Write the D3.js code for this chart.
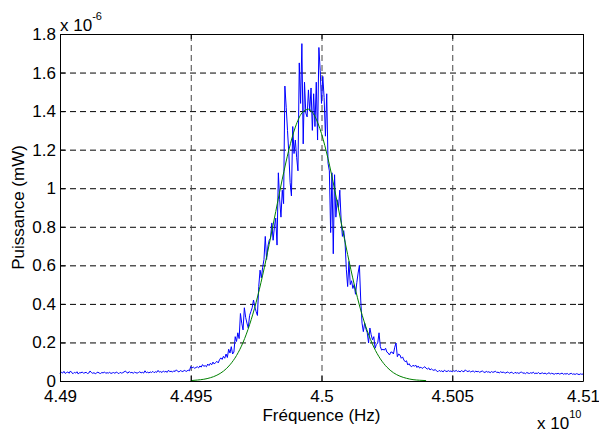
<!DOCTYPE html>
<html>
<head>
<meta charset="utf-8">
<script src="https://cdn.jsdelivr.net/npm/d3@7"></script>
<style>
  body { margin: 0; background: #fff; }
  svg { font-family: "Liberation Sans", Arial, Helvetica, sans-serif; }
</style>
</head>
<body>
<div id="chart"></div>
<script>
// measured spectrum, sampled every 0.00005 (x 1e10 Hz) from 4.49, values in 1e-6 mW
const freqStart = 4.49;
const freqStep = 0.00005;
const powerValues = [
  0.038,0.046,0.041,0.050,0.039,0.044,0.047,0.040,0.052,0.043,0.038,0.045,0.041,0.048,0.036,0.044,0.042,0.047,0.040,0.043,
  0.045,0.039,0.041,0.052,0.044,0.040,0.043,0.038,0.042,0.046,0.041,0.039,0.044,0.042,0.047,0.040,0.043,0.041,0.045,0.039,
  0.042,0.044,0.040,0.046,0.043,0.038,0.045,0.041,0.043,0.047,0.052,0.044,0.041,0.049,0.042,0.045,0.040,0.046,0.043,0.041,
  0.044,0.048,0.042,0.045,0.041,0.053,0.043,0.046,0.042,0.047,0.044,0.050,0.043,0.048,0.045,0.055,0.046,0.049,0.044,0.052,
  0.047,0.050,0.045,0.056,0.048,0.051,0.046,0.053,0.049,0.058,0.050,0.047,0.054,0.051,0.049,0.055,0.052,0.050,0.057,0.053,
  0.075,0.068,0.072,0.066,0.070,0.074,0.068,0.078,0.072,0.085,0.076,0.080,0.074,0.088,0.080,0.092,0.084,0.098,0.088,0.096,
  0.102,0.094,0.110,0.120,0.112,0.128,0.118,0.140,0.122,0.165,0.145,0.178,0.140,0.150,0.230,0.205,0.250,0.220,0.350,0.300,
  0.265,0.380,0.330,0.300,0.275,0.340,0.360,0.380,0.420,0.385,0.360,0.340,0.490,0.575,0.535,0.590,0.630,0.750,0.630,0.700,
  0.730,0.740,0.820,0.730,0.800,0.845,0.705,1.080,0.940,0.850,0.990,0.920,1.530,1.420,1.300,1.180,1.030,0.960,1.320,1.180,
  1.250,1.160,1.090,1.650,1.440,1.750,1.230,1.550,1.390,1.370,1.510,1.400,1.520,1.300,1.490,1.320,1.550,1.250,1.730,1.610,
  1.440,1.580,1.470,1.270,1.490,1.130,1.090,0.770,1.080,0.660,1.070,0.850,0.940,0.900,0.990,0.835,0.750,0.780,0.720,0.580,
  0.490,0.620,0.500,0.520,0.480,0.500,0.450,0.510,0.560,0.600,0.420,0.300,0.256,0.300,0.270,0.250,0.197,0.275,0.240,0.213,
  0.230,0.170,0.190,0.197,0.250,0.178,0.160,0.165,0.160,0.170,0.150,0.145,0.135,0.150,0.150,0.140,0.175,0.197,0.126,0.140,
  0.135,0.118,0.125,0.109,0.100,0.105,0.083,0.090,0.078,0.074,0.082,0.076,0.083,0.070,0.078,0.067,0.072,0.065,0.070,0.074,
  0.066,0.062,0.068,0.057,0.063,0.058,0.055,0.060,0.052,0.048,0.055,0.050,0.053,0.047,0.056,0.051,0.049,0.054,0.050,0.052,
  0.048,0.053,0.050,0.055,0.049,0.052,0.047,0.054,0.050,0.048,0.058,0.051,0.049,0.053,0.047,0.050,0.052,0.046,0.051,0.048,
  0.050,0.045,0.049,0.052,0.047,0.044,0.050,0.046,0.048,0.043,0.049,0.045,0.047,0.051,0.044,0.046,0.042,0.048,0.044,0.046,
  0.043,0.041,0.047,0.044,0.040,0.046,0.043,0.038,0.045,0.041,0.043,0.039,0.044,0.047,0.040,0.042,0.038,0.044,0.041,0.039,
  0.043,0.040,0.046,0.038,0.041,0.039,0.044,0.037,0.040,0.042,0.038,0.041,0.036,0.039,0.043,0.037,0.040,0.038,0.035,0.039,
  0.037,0.040,0.036,0.038,0.041,0.035,0.038,0.036,0.039,0.034,0.037,0.040,0.035,0.037,0.034,0.038,0.036,0.033,0.037,0.035,0.036
];

// gaussian fit
const fitFreqs = [
  4.4950,4.49525,4.4955,4.49575,4.4960,4.49625,4.4965,4.49675,4.4970,4.49725,4.4975,4.49775,4.4980,4.49825,4.4985,4.49875,
  4.4990,4.49925,4.4995,4.49975,4.5000,4.50025,4.5005,4.50075,4.5010,4.50125,4.5015,4.50175,4.5020,4.50225,4.5025,4.50275,
  4.5030,4.50325,4.5035,4.50375,4.5040
];
const fitValues = [
  0.002,0.005,0.009,0.017,0.030,0.051,0.084,0.132,0.200,0.292,0.408,0.549,0.709,0.879,1.047,1.198,
  1.317,1.390,1.410,1.372,1.283,1.153,0.995,0.824,0.656,0.502,0.368,0.260,0.176,0.115,0.072,0.043,
  0.025,0.014,0.007,0.004,0.002
];

const xTicks = [4.49, 4.495, 4.5, 4.505, 4.51];
const xTickLabels = ['4.49', '4.495', '4.5', '4.505', '4.51'];
const yTicks = [0, 0.2, 0.4, 0.6, 0.8, 1, 1.2, 1.4, 1.6, 1.8];
const yTickLabels = ['0', '0.2', '0.4', '0.6', '0.8', '1', '1.2', '1.4', '1.6', '1.8'];

const width = 599;
const height = 432;
const margin = { top: 34, right: 16, bottom: 51, left: 60 };
const innerW = width - margin.left - margin.right;
const innerH = height - margin.top - margin.bottom;

const svg = d3.select('#chart')
  .append('svg')
  .attr('width', width)
  .attr('height', height);

const chart = svg.append('g')
  .attr('transform', 'translate(' + margin.left + ',' + margin.top + ')');

const xCoord = d3.scaleLinear().domain([4.49, 4.51]).range([0, innerW]);
const yCoord = d3.scaleLinear().domain([0, 1.8]).range([innerH, 0]);

// dashed grid
chart.append('g')
  .attr('class', 'grid')
  .call(d3.axisLeft(yCoord).tickValues(yTicks).tickSize(-innerW).tickFormat(''))
  .call(g => g.select('.domain').remove())
  .call(g => g.selectAll('line').attr('stroke', '#000'));
chart.append('g')
  .attr('class', 'grid')
  .attr('transform', 'translate(0,' + innerH + ')')
  .call(d3.axisBottom(xCoord).tickValues(xTicks).tickSize(-innerH).tickFormat(''))
  .call(g => g.select('.domain').remove())
  .call(g => g.selectAll('line').attr('stroke', '#444'));
chart.selectAll('.grid line')
  .attr('stroke-dasharray', '6,4');

// curves
const drawLine = d3.line()
  .x(d => xCoord(d[0]))
  .y(d => yCoord(d[1]));

const measured = powerValues.map((v, i) => [freqStart + i * freqStep, v]);
const fitted = fitFreqs.map((f, i) => [f, fitValues[i]]);

chart.append('path')
  .datum(measured)
  .attr('d', drawLine)
  .attr('fill', 'none')
  .attr('stroke', '#0000ff')
  .attr('stroke-width', 1);

chart.append('path')
  .datum(fitted)
  .attr('d', drawLine.curve(d3.curveMonotoneX))
  .attr('fill', 'none')
  .attr('stroke', '#008000')
  .attr('stroke-width', 1);

// axes with inward ticks, box on
const fontSize = 17;
chart.append('g')
  .attr('transform', 'translate(0,' + innerH + ')')
  .call(d3.axisBottom(xCoord).tickValues(xTicks).tickFormat((d, i) => xTickLabels[i])
    .tickSizeInner(-5).tickSizeOuter(0).tickPadding(9))
  .call(g => g.selectAll('text').attr('font-size', fontSize).attr('fill', '#000'));
chart.append('g')
  .call(d3.axisLeft(yCoord).tickValues(yTicks).tickFormat((d, i) => yTickLabels[i])
    .tickSizeInner(-5).tickSizeOuter(0).tickPadding(4))
  .call(g => g.selectAll('text').attr('font-size', fontSize).attr('fill', '#000'));
chart.append('g')
  .call(d3.axisTop(xCoord).tickValues(xTicks).tickFormat('').tickSizeInner(-5).tickSizeOuter(0));
chart.append('g')
  .attr('transform', 'translate(' + innerW + ',0)')
  .call(d3.axisRight(yCoord).tickValues(yTicks).tickFormat('').tickSizeInner(-5).tickSizeOuter(0));

// labels
svg.append('text')
  .attr('x', margin.left + innerW / 2)
  .attr('y', 421)
  .attr('text-anchor', 'middle')
  .attr('font-size', fontSize)
  .text('Fréquence (Hz)');

svg.append('text')
  .attr('transform', 'translate(24,' + (margin.top + innerH / 2) + ') rotate(-90)')
  .attr('text-anchor', 'middle')
  .attr('font-size', fontSize)
  .text('Puissance (mW)');

// exponent labels
const topExp = svg.append('text')
  .attr('x', margin.left)
  .attr('y', 31)
  .attr('font-size', fontSize);
topExp.append('tspan').text('x 10');
topExp.append('tspan').attr('font-size', 11).attr('dy', -11).text('-6');

const botExp = svg.append('text')
  .attr('x', 537)
  .attr('y', 429)
  .attr('font-size', fontSize);
botExp.append('tspan').text('x 10');
botExp.append('tspan').attr('font-size', 11).attr('dy', -11).text('10');
</script>
</body>
</html>
